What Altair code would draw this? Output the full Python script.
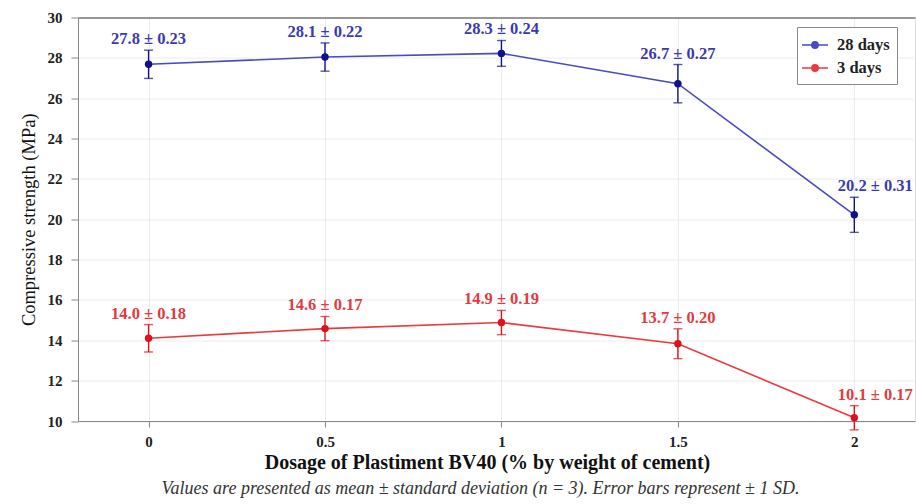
import altair as alt
import pandas as pd

dosage = [0, 0.5, 1, 1.5, 2]
series_names = ["28 days", "3 days"]

mean_28 = [27.68, 28.04, 28.22, 26.72, 20.22]
err_28 = [0.70, 0.70, 0.64, 0.95, 0.87]
labels_28 = ["27.8 ± 0.23", "28.1 ± 0.22", "28.3 ± 0.24", "26.7 ± 0.27", "20.2 ± 0.31"]

mean_3 = [14.10, 14.58, 14.88, 13.83, 10.16]
err_3 = [0.68, 0.60, 0.60, 0.74, 0.60]
labels_3 = ["14.0 ± 0.18", "14.6 ± 0.17", "14.9 ± 0.19", "13.7 ± 0.20", "10.1 ± 0.17"]

y_ticks = [10, 12, 14, 16, 18, 20, 22, 24, 26, 28, 30]
caption = "Values are presented as mean ± standard deviation (n = 3). Error bars represent ± 1 SD."

rows = []
for name, means, errs, labs in [("28 days", mean_28, err_28, labels_28), ("3 days", mean_3, err_3, labels_3)]:
    for d, m, e, l in zip(dosage, means, errs, labs):
        rows.append({"dose": d, "series": name, "mean": m, "lower": m - e, "upper": m + e, "label": l})
df = pd.DataFrame(rows)

FONT = "Liberation Serif"
W, H = 837, 403.5

x_enc = alt.X("dose:Q", scale=alt.Scale(domain=[-0.2, 2.172], nice=False, zero=False),
              axis=alt.Axis(values=dosage, format="~g", title="Dosage of Plastiment BV40 (% by weight of cement)",
                            grid=True, gridColor="#ececec",
                            labelFont=FONT, titleFont=FONT, labelColor="#222222", titleColor="#111111",
                            labelFontWeight="bold", labelFontSize=15,
                            titleFontWeight="bold", titleFontSize=20, labelPadding=7, titlePadding=3,
                            titleX=409, tickSize=6))
y_scale = alt.Scale(domain=[10, 30], nice=False, zero=False)
y_axis = alt.Axis(values=y_ticks, title="Compressive strength (MPa)", grid=True,
                  gridColor={"condition": {"test": "datum.value == 30", "value": "#7a7a7a"}, "value": "#ececec"},
                  gridWidth={"condition": {"test": "datum.value == 30", "value": 1.5}, "value": 1},
                  labelFont=FONT, titleFont=FONT, labelColor="#222222", titleColor="#111111",
                  labelFontWeight="bold", labelFontSize=15, titleFontWeight="normal", titleFontSize=18.5,
                  labelPadding=9, titlePadding=9, tickSize=7)

base = alt.Chart(df)

series_color = alt.condition(alt.datum.series == "28 days", alt.value("#10108a"), alt.value("#e2101c"))
label_color = alt.condition(alt.datum.series == "28 days", alt.value("#3a3ab0"), alt.value("#e23a3e"))

legend_symbol = "M-1.3,0L1.3,0M-0.32,0A0.32,0.32,0,1,1,0.32,0A0.32,0.32,0,1,1,-0.32,0Z"
color_scale = alt.Scale(domain=series_names, range=["#4a4ac4", "#ea3a40"])
legend = alt.Legend(title=None, orient="none", legendX=719, legendY=9.5,
                    symbolType=legend_symbol, symbolSize=400, symbolStrokeWidth=1.5,
                    labelFont=FONT, labelFontWeight="bold", labelFontSize=16.5, labelColor="#222222",
                    labelOffset=11, padding=7, rowPadding=3,
                    strokeColor="#8a8a8a", fillColor="white")

lines = base.mark_line(strokeWidth=1.6).encode(
    x=x_enc,
    y=alt.Y("mean:Q", scale=y_scale, axis=y_axis),
    color=alt.Color("series:N", scale=color_scale, legend=legend),
)
legend_points = base.mark_point(filled=True, size=40, opacity=1, strokeWidth=1.5).encode(
    x="dose:Q", y=alt.Y("mean:Q", scale=y_scale),
    color=alt.Color("series:N", scale=color_scale, legend=legend),
)

bars = base.mark_rule(strokeWidth=1.4).encode(
    x="dose:Q", y=alt.Y("lower:Q", scale=y_scale), y2="upper:Q", color=series_color)
caps_lo = base.mark_tick(orient="horizontal", size=9, thickness=1.4).encode(
    x="dose:Q", y=alt.Y("lower:Q", scale=y_scale), color=series_color)
caps_hi = base.mark_tick(orient="horizontal", size=9, thickness=1.4).encode(
    x="dose:Q", y=alt.Y("upper:Q", scale=y_scale), color=series_color)
points = base.mark_circle(size=55, opacity=1).encode(
    x="dose:Q", y=alt.Y("mean:Q", scale=y_scale), color=series_color)

text_main = base.transform_filter(alt.datum.dose < 2).mark_text(
    font=FONT, fontWeight="bold", fontSize=16.5, dy=-6, baseline="alphabetic").encode(
    x="dose:Q", y=alt.Y("upper:Q", scale=y_scale), text="label:N", color=label_color)
text_end = base.transform_filter(alt.datum.dose == 2).mark_text(
    font=FONT, fontWeight="bold", fontSize=16.5, dy=-6, dx=21, baseline="alphabetic").encode(
    x="dose:Q", y=alt.Y("upper:Q", scale=y_scale), text="label:N", color=label_color)

chart = alt.layer(lines, legend_points, bars, caps_lo, caps_hi, points, text_main, text_end).properties(
    width=W, height=H,
    autosize=alt.AutoSizeParams(type="none"),
    padding={"left": 78, "top": 17.5, "right": 1, "bottom": 83},
    title=alt.TitleParams(caption, orient="bottom", anchor="middle", font=FONT, fontStyle="italic",
                          fontWeight="normal", fontSize=18, color="#333333", offset=8, dx=-16),
).configure_view(stroke=None).configure_axis(
    domainColor="#777777", domainWidth=1.5, tickColor="#777777", tickWidth=1.2,
).configure(background="white")

chart.save("out.html", embed_options={"renderer": "svg", "actions": False})
